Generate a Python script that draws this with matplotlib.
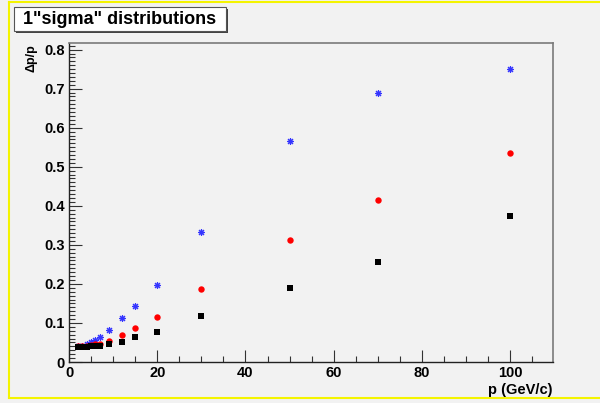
import matplotlib.pyplot as plt
from matplotlib.lines import Line2D
from matplotlib.patches import Rectangle
from matplotlib.ticker import MultipleLocator, FuncFormatter

# momentum points (GeV/c)
p = [2, 3, 4, 5, 6, 7, 9, 12, 15, 20, 30, 50, 70, 100]
# dp/p for the three sets
sigma_blue = [0.040, 0.042, 0.045, 0.050, 0.056, 0.064, 0.082, 0.113, 0.144,
              0.197, 0.333, 0.567, 0.688, 0.751]
sigma_red = [0.040, 0.041, 0.042, 0.043, 0.045, 0.047, 0.054, 0.069, 0.087,
             0.116, 0.186, 0.313, 0.414, 0.535]
sigma_black = [0.039, 0.039, 0.039, 0.040, 0.040, 0.041, 0.045, 0.051, 0.063,
               0.078, 0.119, 0.189, 0.255, 0.375]

title = '1"sigma" distributions'
xlabel = "p (GeV/c)"
ylabel = "\u0394p/p"

bg = "#f2f2f2"
plt.rcParams["font.family"] = ["Liberation Sans", "DejaVu Sans"]

W, H = 600, 403
fig = plt.figure(figsize=(W / 100, H / 100), dpi=100, facecolor=bg)
ax = fig.add_axes([69 / W, 1 - 362 / H, (553 - 69) / W, (362 - 43) / H])
ax.set_facecolor(bg)

ax.plot(p, sigma_blue, linestyle="none", marker=(8, 2, 0), markersize=5,
        markeredgewidth=0.8, color="#3535ff")
ax.plot(p, sigma_red, linestyle="none", marker="o", markersize=4.6,
        color="#ff0000", markeredgewidth=0)
ax.plot(p, sigma_black, linestyle="none", marker="s", markersize=4.6,
        color="black", markeredgewidth=0)

ax.set_xlim(0, 109.7)
ax.set_ylim(0, 0.817)

ax.xaxis.set_major_locator(MultipleLocator(20))
ax.xaxis.set_minor_locator(MultipleLocator(5))
ax.yaxis.set_major_locator(MultipleLocator(0.1))
ax.yaxis.set_minor_locator(MultipleLocator(0.01))
ax.yaxis.set_major_formatter(FuncFormatter(lambda v, pos: "%g" % round(v, 2)))

ax.tick_params(which="both", direction="in", top=False, right=False,
               color="#333333")
ax.tick_params(which="major", length=9, width=0.8, labelsize=10.5, pad=3)
ax.tick_params(which="minor", length=4.5, width=0.8)
for lab in ax.get_xticklabels() + ax.get_yticklabels():
    lab.set_fontweight("bold")

for s in ["left", "bottom"]:
    ax.spines[s].set_color("#222222")
    ax.spines[s].set_linewidth(1.0)
for s in ["top", "right"]:
    ax.spines[s].set_color("#7a7a7a")
    ax.spines[s].set_linewidth(1.2)

ax.set_xlabel(xlabel, loc="right", fontsize=10.5, fontweight="bold")
ax.xaxis.set_label_coords(1.0, -0.065)
ax.set_ylabel(ylabel, loc="top", fontsize=9, fontweight="bold")
ax.yaxis.set_label_coords(-0.065, 0.995)

# yellow canvas border
yc = "#f4f400"
fig.add_artist(Line2D([9 / W, 1], [1 - 2 / H, 1 - 2 / H], color=yc, lw=1.5))
fig.add_artist(Line2D([9 / W, 9 / W], [1 - 2 / H, 1 - 398 / H], color=yc, lw=1.5))
fig.add_artist(Line2D([9 / W, 1], [1 - 398 / H, 1 - 398 / H], color=yc, lw=1.5))

# title pave with shadow
fig.add_artist(Rectangle((16 / W, 1 - 33 / H), 212 / W, 24 / H,
                         transform=fig.transFigure, fc="#444444", ec="none"))
fig.add_artist(Rectangle((14 / W, 1 - 31 / H), 212 / W, 24 / H,
                         transform=fig.transFigure, fc="white", ec="#555555",
                         lw=0.8))
fig.text(120 / W, 1 - 19 / H, title, ha="center", va="center", fontsize=13,
         fontweight="bold")

fig.savefig("out.png", dpi=100, facecolor=bg)
